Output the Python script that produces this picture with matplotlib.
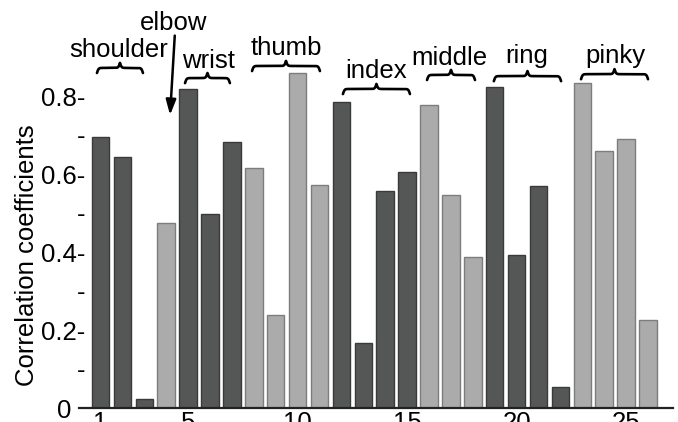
import numpy as np
import matplotlib
matplotlib.use("Agg")
import matplotlib.pyplot as plt

plt.rcParams['font.family'] = ['Liberation Sans', 'DejaVu Sans']

# ---- data ----
bar_index = list(range(1, 27))
values = [0.694, 0.643, 0.023, 0.474, 0.818, 0.497, 0.683, 0.615, 0.238, 0.859,
          0.572, 0.785, 0.167, 0.556, 0.606, 0.777, 0.546, 0.387, 0.823, 0.392,
          0.569, 0.054, 0.833, 0.660, 0.689, 0.226]
shade = ['d', 'd', 'd', 'l', 'd', 'd', 'd', 'l', 'l', 'l',
         'l', 'd', 'd', 'd', 'd', 'l', 'l', 'l', 'd', 'd',
         'd', 'd', 'l', 'l', 'l', 'l']
xtick_vals = [1, 5, 10, 15, 20, 25]
ytick_vals = [0, 0.1, 0.2, 0.3, 0.4, 0.5, 0.6, 0.7, 0.8]
ytick_labels = ['0  ', '-', '0.2-', '-', '0.4-', '-', '0.6-', '-', '0.8-']
ylabel = 'Correlation coefficients'

# group labels: (name, brace x0, brace x1, brace y, text x, text baseline y)
groups = [
    ('shoulder', 0.84, 2.94, 0.872, 1.84, 0.900),
    ('wrist', 4.86, 6.91, 0.846, 5.91, 0.872),
    ('thumb', 7.92, 11.02, 0.877, 9.47, 0.905),
    ('index', 12.07, 15.13, 0.818, 13.58, 0.846),
    ('middle', 15.91, 18.10, 0.854, 16.91, 0.879),
    ('ring', 18.96, 22.03, 0.851, 20.47, 0.885),
    ('pinky', 22.94, 26.00, 0.856, 24.49, 0.885),
]

colors = {'d': '#555756', 'l': '#aaabaa'}
edges = {'d': '#3a3a3a', 'l': '#7d7d7d'}
FS = 18.5

fig = plt.figure(figsize=(6.78, 4.22), dpi=100)
ax = fig.add_axes([79 / 678, 14 / 422, 594 / 678, 390 / 422])

ax.bar(bar_index, values, width=0.8,
       color=[colors[s] for s in shade],
       edgecolor=[edges[s] for s in shade], linewidth=1.0, zorder=2)

ax.set_xlim(0.02, 27.14)
ax.set_ylim(0, 1.0)

for side in ['top', 'right', 'left']:
    ax.spines[side].set_visible(False)
ax.spines['bottom'].set_linewidth(1.6)
ax.spines['bottom'].set_color('#222222')

ax.set_xticks(xtick_vals)
ax.set_xticklabels([str(v) for v in xtick_vals], fontsize=FS)
ax.tick_params(axis='x', length=0, pad=2.5)

ax.set_yticks(ytick_vals)
ax.set_yticklabels(ytick_labels, fontsize=FS)
ax.tick_params(axis='y', length=0, pad=-4.5)

fig.text(27 / 678, 1 - 255 / 422, ylabel, rotation=90, ha='center', va='center',
         fontsize=FS)


def brace(ax, x0, x1, y, h=0.026, beta=28.0, n=301):
    xs = np.linspace(x0, x1, n)
    half = xs[: n // 2 + 1]
    yh = (1 / (1 + np.exp(-beta * (half - half[0])))
          + 1 / (1 + np.exp(-beta * (half - half[-1]))))
    yy = np.concatenate((yh, yh[-2::-1]))
    yy = y + (yy - 1.0) * h
    ax.plot(xs, yy, color='black', lw=1.9, clip_on=False,
            solid_capstyle='round', zorder=3)


for name, bx0, bx1, by, tx, ty in groups:
    brace(ax, bx0, bx1, by)
    ax.text(tx, ty, name, ha='center', va='baseline', fontsize=FS, clip_on=False)

ax.text(4.36, 0.969, 'elbow', ha='center', va='baseline', fontsize=FS, clip_on=False)
ax.annotate('', xy=(4.17, 0.744), xytext=(4.40, 0.962),
            arrowprops=dict(arrowstyle='-|>,head_length=0.9,head_width=0.3',
                            color='black', lw=1.8),
            annotation_clip=False)

fig.savefig('out.png', dpi=100)
